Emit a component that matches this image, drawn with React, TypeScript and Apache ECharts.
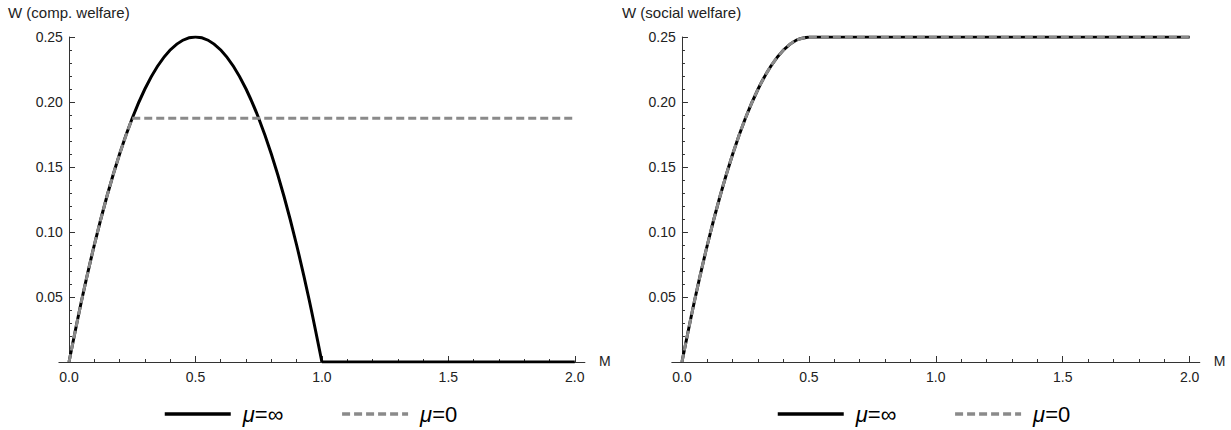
import React, { useEffect, useRef } from "react";
import * as echarts from "echarts";

// Left panel: competitive welfare
const compInfCurveM = [0, 0.05, 0.1, 0.15, 0.2, 0.25, 0.3, 0.35, 0.4, 0.45, 0.5, 0.55, 0.6, 0.65, 0.7, 0.75, 0.8, 0.85, 0.9, 0.95, 1.0];
const compInfCurveW = [0, 0.0475, 0.09, 0.1275, 0.16, 0.1875, 0.21, 0.2275, 0.24, 0.2475, 0.25, 0.2475, 0.24, 0.2275, 0.21, 0.1875, 0.16, 0.1275, 0.09, 0.0475, 0];
const compInfTailM = [1.0, 2.0];
const compInfTailW = [0, 0];
const comp0CurveM = [0, 0.05, 0.1, 0.15, 0.2, 0.25];
const comp0CurveW = [0, 0.0475, 0.09, 0.1275, 0.16, 0.1875];
const comp0TailM = [0.25, 2.0];
const comp0TailW = [0.1875, 0.1875];

// Right panel: social welfare
const socCurveM = [0, 0.05, 0.1, 0.15, 0.2, 0.25, 0.3, 0.35, 0.4, 0.45, 0.5];
const socCurveW = [0, 0.0475, 0.09, 0.1275, 0.16, 0.1875, 0.21, 0.2275, 0.24, 0.2475, 0.25];
const socTailM = [0.5, 2.0];
const socTailW = [0.25, 0.25];

const xMajor = [0, 0.5, 1.0, 1.5, 2.0];
const xMinor = [0.1, 0.2, 0.3, 0.4, 0.6, 0.7, 0.8, 0.9, 1.1, 1.2, 1.3, 1.4, 1.6, 1.7, 1.8, 1.9];

const NAME_INF = "μ=∞";
const NAME_ZERO = "μ=0";
const leftTitle = "W (comp. welfare)";
const rightTitle = "W (social welfare)";
const xName = "M";

const pairs = (xs: number[], ys: number[]) => xs.map((x, i) => [x, ys[i]]);

const FONT = "Liberation Sans, Arial, sans-serif";
const AXIS_COLOR = "#333";
const LABEL_COLOR = "#222";

export default function App() {
  const ref = useRef<HTMLDivElement>(null);
  useEffect(() => {
    if (!ref.current) return;
    const chart = echarts.init(ref.current, undefined, { renderer: "svg" });

    const grids = [
      { left: 58.9, top: 37, width: 526, height: 325 },
      { left: 671.8, top: 37, width: 528, height: 325 },
    ];

    const mainX = (gi: number) => ({
      type: "value",
      gridIndex: gi,
      min: -0.04,
      max: 2.04,
      name: xName,
      nameLocation: "end",
      nameGap: 14,
      nameTextStyle: { color: LABEL_COLOR, fontSize: 14, fontFamily: FONT, verticalAlign: "bottom", padding: [0, 0, -6, 0] },
      axisLine: { onZero: false, lineStyle: { color: AXIS_COLOR, width: 1 } },
      axisTick: { show: true, inside: true, length: 6, customValues: xMajor, lineStyle: { color: AXIS_COLOR } },
      axisLabel: {
        customValues: xMajor,
        margin: 8,
        color: LABEL_COLOR,
        fontSize: 14,
        fontFamily: FONT,
        formatter: (v: number) => v.toFixed(1),
      },
      splitLine: { show: false },
    });
    const minorX = (gi: number) => ({
      type: "value",
      gridIndex: gi,
      min: -0.04,
      max: 2.04,
      position: "bottom",
      offset: 0,
      axisLine: { show: false, onZero: false },
      axisTick: { show: true, inside: true, length: 3, customValues: xMinor, lineStyle: { color: AXIS_COLOR } },
      axisLabel: { show: false },
      splitLine: { show: false },
    });
    const yAx = (gi: number, xi: number) => ({
      type: "value",
      gridIndex: gi,
      min: 0,
      max: 0.25,
      interval: 0.05,
      axisLine: { show: true, onZero: true, onZeroAxisIndex: xi, lineStyle: { color: AXIS_COLOR, width: 1 } },
      axisTick: { show: true, inside: true, length: 6, lineStyle: { color: AXIS_COLOR } },
      minorTick: { show: true, splitNumber: 5, length: 3, lineStyle: { color: AXIS_COLOR } },
      axisLabel: {
        showMinLabel: false,
        margin: -4,
        color: LABEL_COLOR,
        fontSize: 14,
        fontFamily: FONT,
        formatter: (v: number) => (v === 0 ? "" : v.toFixed(2)),
      },
      splitLine: { show: false },
      minorSplitLine: { show: false },
    });

    const blackLine = { color: "#000", width: 3, type: "solid" as const };
    const grayLine = { color: "#8a8a8a", width: 3, type: [8, 4] as any };

    const mk = (name: string, xi: number, yi: number, data: number[][], ls: any, smooth: boolean, z: number) => ({
      type: "line",
      name,
      xAxisIndex: xi,
      yAxisIndex: yi,
      data,
      smooth: smooth ? 0.3 : false,
      symbol: "none",
      showSymbol: false,
      lineStyle: ls,
      itemStyle: { color: ls.color },
      z,
    });

    const legendText = {
      fontSize: 22,
      fontFamily: FONT,
      color: "#000",
      rich: {
        i: { fontStyle: "italic", fontSize: 22, fontFamily: FONT, color: "#000", padding: [0, 0, 0, 7] },
        n: { fontSize: 22, fontFamily: FONT, color: "#000" },
      },
    };
    const legendFormatter = (name: string) => (name === NAME_INF ? "{i|μ}{n|=∞}" : "{i|μ}{n|=0}");

    const legendBase = {
      top: 403,
      padding: 0,
      itemWidth: 66,
      itemHeight: 24,
      itemGap: 57,
      data: [NAME_INF, NAME_ZERO],
      formatter: legendFormatter,
      textStyle: legendText,
      selectedMode: false,
      itemStyle: { opacity: 0 },
      lineStyle: { width: 3.5 },
    };

    chart.setOption({
      animation: false,
      backgroundColor: "#fff",
      title: [
        { text: leftTitle, left: 8, top: 5, padding: 0, textStyle: { fontSize: 15, fontWeight: "normal", color: LABEL_COLOR, fontFamily: FONT } },
        { text: rightTitle, left: 622, top: 5, padding: 0, textStyle: { fontSize: 15, fontWeight: "normal", color: LABEL_COLOR, fontFamily: FONT } },
      ],
      grid: grids,
      xAxis: [mainX(0), minorX(0), mainX(1), minorX(1)],
      yAxis: [yAx(0, 0), yAx(1, 2)],
      legend: [
        { ...legendBase, left: 163 },
        { ...legendBase, left: 776 },
      ],
      series: [
        mk(NAME_INF, 0, 0, pairs(compInfCurveM, compInfCurveW), blackLine, true, 2),
        mk(NAME_INF, 0, 0, pairs(compInfTailM, compInfTailW), blackLine, false, 2),
        mk(NAME_ZERO, 0, 0, pairs(comp0CurveM, comp0CurveW), grayLine, true, 3),
        mk(NAME_ZERO, 0, 0, pairs(comp0TailM, comp0TailW), grayLine, false, 3),
        mk(NAME_INF, 2, 1, pairs(socCurveM, socCurveW), blackLine, true, 2),
        mk(NAME_INF, 2, 1, pairs(socTailM, socTailW), blackLine, false, 2),
        mk(NAME_ZERO, 2, 1, pairs(socCurveM, socCurveW), grayLine, true, 3),
        mk(NAME_ZERO, 2, 1, pairs(socTailM, socTailW), grayLine, false, 3),
      ],
    });
    return () => chart.dispose();
  }, []);
  return <div ref={ref} style={{ position: "fixed", left: 0, top: 0, width: 1231, height: 430 }} />;
}
